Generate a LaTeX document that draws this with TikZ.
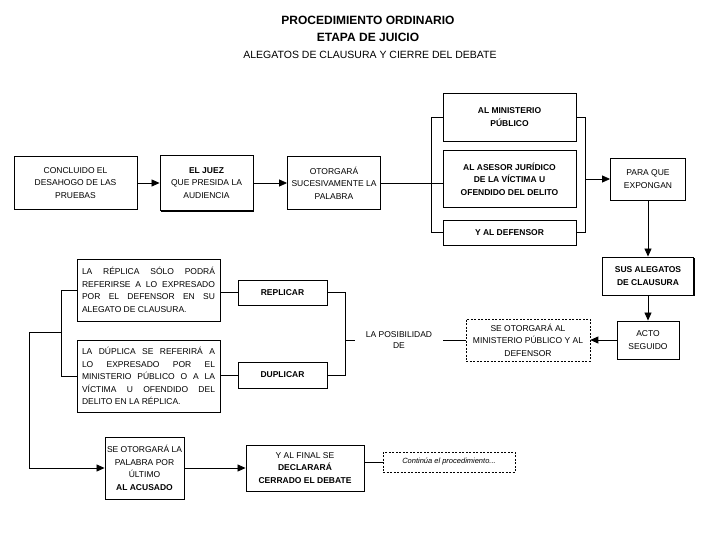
\documentclass[tikz,border=0pt]{standalone}
\usepackage{fontspec}
\setmainfont{Liberation Sans}
\usetikzlibrary{arrows.meta,shadows}
\hyphenpenalty=10000
\exhyphenpenalty=10000
\begin{document}
\begin{tikzpicture}[x=1pt,y=-1pt,
  box/.style={draw, fill=white, line width=0.9pt, align=center, inner xsep=2pt, inner ysep=2pt,
    font=\fontsize{8.5}{12.5}\selectfont},
  bbox/.style={box, font=\fontsize{8.5}{12.5}\selectfont\bfseries},
  shbox/.style={box, drop shadow={shadow xshift=1.3pt, shadow yshift=-1.3pt, fill=black, opacity=1}},
  dbox/.style={box, line width=0.6pt, dash pattern=on 2pt off 1.5pt},
  jbox/.style={shbox, align=justify, text width=133pt, inner xsep=5pt,
    font=\fontsize{8.5}{12.5}\selectfont},
  conn/.style={line width=0.8pt},
  arr/.style={conn, -{Triangle[length=8pt,width=7pt]}},
  title/.style={font=\fontsize{12}{14}\selectfont\bfseries, inner sep=0pt},
  subtitle/.style={font=\fontsize{10.5}{12}\selectfont, inner sep=0pt}]
\useasboundingbox (0,0) rectangle (720,540);

% titles
\node[title] (t1) at (368,20) {PROCEDIMIENTO ORDINARIO};
\node[title] (t2) at (368,37) {ETAPA DE JUICIO};
\node[subtitle] (t3) at (370,55) {ALEGATOS DE CLAUSURA Y CIERRE DEL DEBATE};

% first row
\node[box, minimum width=123pt, minimum height=53pt] (b1) at (75.5,183) {CONCLUIDO EL\\DESAHOGO DE LAS\\PRUEBAS};
\node[shbox, minimum width=93pt, minimum height=55pt] (b2) at (206.5,183) {\textbf{EL JUEZ}\\QUE PRESIDA LA\\AUDIENCIA};
\node[box, minimum width=93pt, minimum height=53pt] (b3) at (334,183) {OTORGARÁ\\SUCESIVAMENTE LA\\PALABRA};

\node[bbox, minimum width=133pt, minimum height=48pt] (mp) at (509.5,117) {AL MINISTERIO\\PÚBLICO};
\node[bbox, minimum width=133pt, minimum height=57pt] (ase) at (509.5,179) {AL ASESOR JURÍDICO\\DE LA VÍCTIMA U\\OFENDIDO DEL DELITO};
\node[bbox, minimum width=133pt, minimum height=25pt] (def) at (509.5,232.5) {Y AL DEFENSOR};

\node[box, minimum width=75pt, minimum height=42pt] (para) at (648,179) {PARA QUE\\EXPONGAN};
\node[shbox, font=\fontsize{8.5}{12.5}\selectfont\bfseries, minimum width=91pt, minimum height=38pt] (ale) at (648,276) {SUS ALEGATOS\\DE CLAUSURA};
\node[shbox, minimum width=62pt, minimum height=38pt] (acto) at (648,340) {ACTO\\SEGUIDO};
\node[dbox, minimum width=124pt, minimum height=42pt] (otor) at (528,340) {SE OTORGARÁ AL\\MINISTERIO PÚBLICO Y AL\\DEFENSOR};
\node[align=center, font=\fontsize{8.5}{11}\selectfont, minimum width=88pt, inner sep=0pt] (posib) at (399,340) {LA POSIBILIDAD\\DE};

% middle left
\node[shbox, font=\fontsize{8.5}{12.5}\selectfont\bfseries, minimum width=89pt, minimum height=25pt] (rep) at (282.5,292.5) {REPLICAR};
\node[shbox, font=\fontsize{8.5}{12.5}\selectfont\bfseries, minimum width=89pt, minimum height=26pt] (dup) at (282.5,375) {DUPLICAR};
\node[jbox, minimum height=62pt] (tb1) at (148.5,290) {LA RÉPLICA SÓLO PODRÁ\linebreak REFERIRSE A LO EXPRESADO\linebreak POR EL DEFENSOR EN SU\linebreak ALEGATO DE CLAUSURA.};
\node[jbox, minimum height=72pt] (tb2) at (148.5,376) {LA DÚPLICA SE REFERIRÁ A\linebreak LO EXPRESADO POR EL\linebreak MINISTERIO PÚBLICO O A LA\linebreak VÍCTIMA U OFENDIDO DEL\linebreak DELITO EN LA RÉPLICA.};

% bottom row
\node[shbox, minimum width=79pt, minimum height=62pt] (last) at (144.5,468) {SE OTORGARÁ LA\\PALABRA POR\\ÚLTIMO\\\textbf{AL ACUSADO}};
\node[shbox, minimum width=118pt, minimum height=46pt] (fin) at (305,468) {Y AL FINAL SE\\\textbf{DECLARARÁ}\\\textbf{CERRADO EL DEBATE}};
\node[dbox, font=\fontsize{7.5}{9}\selectfont\itshape, minimum width=132pt, minimum height=20pt] (cont) at (449,462) {Continúa el procedimiento...};

% connectors
\draw[arr] (b1.east) -- (b2.west);
\draw[arr] (b2.east) -- (b3.west);
\draw[conn] (b3.east) -- (b3.east -| ase.west);
\draw[conn] (mp.west) -- ++(-11,0) |- (def.west);
\draw[conn] (mp.east) -- ++(9,0) |- (def.east);
\coordinate (rj) at (585,179);
\draw[arr] (rj) -- (para.west);
\draw[arr] (para.south) -- (ale.north);
\draw[arr] (ale.south) -- (acto.north);
\draw[arr] (acto.west) -- (otor.east);
\draw[conn] (otor.west) -- (posib.east);
\draw[conn] (rep.east) -- ++(18,0) |- (dup.east);
\coordinate (mj) at (345,340);
\draw[conn] (posib.west) -- (mj);
\draw[conn] (rep.west) -- (rep.west -| tb1.east);
\draw[conn] (dup.west) -- (dup.west -| tb2.east);
\draw[conn] (tb1.west) -- ++(-15,0) |- (tb2.west);
\coordinate (lj) at (62,332);
\draw[arr] (lj) -- ++(-33,0) |- (last.west);
\draw[arr] (last.east) -- (fin.west);
\draw[conn] (cont.west) -- (cont.west -| fin.east);
\end{tikzpicture}
\end{document}
